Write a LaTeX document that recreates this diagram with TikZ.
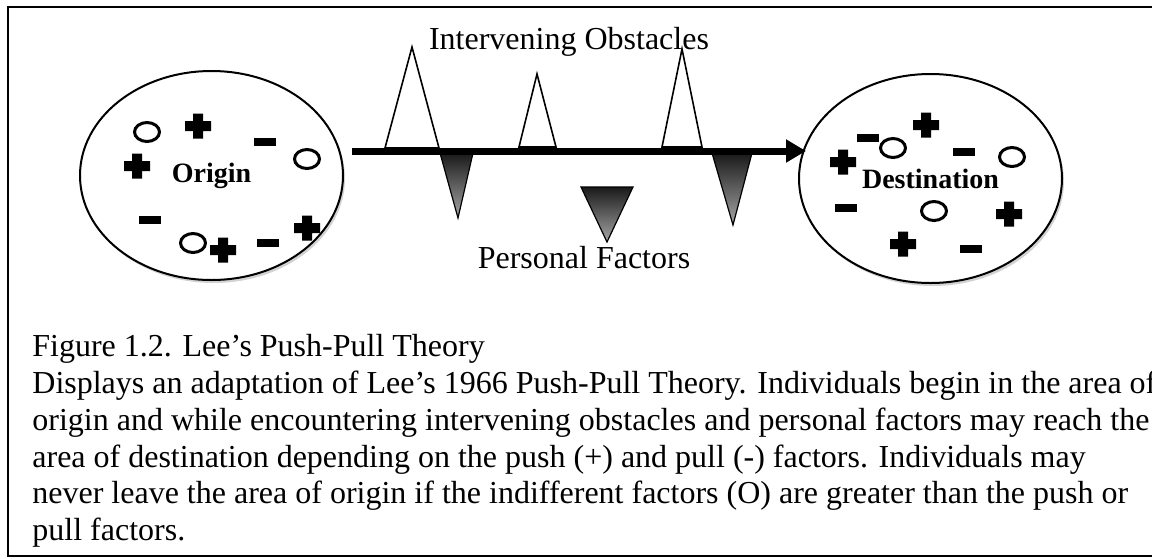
\documentclass[tikz,border=0pt]{standalone}
\usepackage{fontspec}
\setmainfont{Liberation Serif}
\usetikzlibrary{shapes.geometric,arrows.meta,shadows}

\tikzset{
	area/.style={ellipse, draw, line width=1pt, fill=white,
		minimum width=131.5pt, minimum height=104.5pt,
		font=\fontsize{14}{16}\selectfont\bfseries,
		drop shadow={shadow xshift=1pt, shadow yshift=-1.5pt, fill=black!35}},
	obstacle/.style={draw, line width=0.8pt, fill=white},
	personal/.style={draw, line width=0.6pt, top color=black!90, bottom color=black!35},
	flow/.style={line width=3.5pt, -{Triangle[length=10pt,width=11pt]}},
	heading/.style={font=\fontsize{16}{18.4}\selectfont},
	pushsign/.pic={\fill (-13,-5) rectangle (13,5) (-5,-12.5) rectangle (5,12.5);},
	pullsign/.pic={\fill (-11,-4) rectangle (11,4);},
	indiffsign/.pic={\draw[line width=1.5pt] (0,0) ellipse [x radius=12.5, y radius=9.5];}
}

\begin{document}
\begin{tikzpicture}[x=0.5pt, y=-0.5pt]
		\useasboundingbox (0,0) rectangle (1152,558);
		\draw [line width=1pt] (8,7) rectangle (1180,556);

		\node (origin) [area] at (211.5,175.5) {Origin};
		\node (dest) [area] at (930.5,178.5) {Destination};

		% indifferent (O), push (+) and pull (-) factors
		\foreach \p in {(147,132),(307,159),(193,243),(893,148),(1012,157),(934,211)}
			\pic at \p {indiffsign};
		\foreach \p in {(198,126),(137,166),(223,250),(307,228),(926,125),(843,162),(1009,214),(903,244)}
			\pic at \p {pushsign};
		\foreach \p in {(265,142),(150,220),(268,243),(868,138),(964,152),(846,208),(971,249)}
			\pic at \p {pullsign};

		% obstacles and personal factors
		\path [obstacle] (385,148) -- (412,47) -- (439,148) -- cycle;
		\path [obstacle] (519,147) -- (537,74) -- (556,147) -- cycle;
		\path [obstacle] (662,147) -- (682,49) -- (702,147) -- cycle;
		\path [personal] (440,153) -- (473,153) -- (458,218) -- cycle;
		\path [personal] (581,187) -- (633,187) -- (607,242) -- cycle;
		\path [personal] (712,153) -- (752,153) -- (733,225) -- cycle;

		\coordinate (start) at (352,151);
		\coordinate (stop) at (806,151);
		\draw [flow] (start) -- (stop);

		\node (obst) [heading, anchor=base] at (569,49) {Intervening Obstacles};
		\node (pers) [heading, anchor=base] at (584,268) {Personal Factors};

		\node (caption) [heading, anchor=north west, align=left, inner sep=0pt] at (32,334)
			{Figure 1.2. Lee’s Push-Pull Theory\\
			Displays an adaptation of Lee’s 1966 Push-Pull Theory. Individuals begin in the area of\\
			origin and while encountering intervening obstacles and personal factors may reach the\\
			area of destination depending on the push (+) and pull (-) factors. Individuals may\\
			never leave the area of origin if the indifferent factors (O) are greater than the push or\\
			pull factors.};
	\end{tikzpicture}
\end{document}
